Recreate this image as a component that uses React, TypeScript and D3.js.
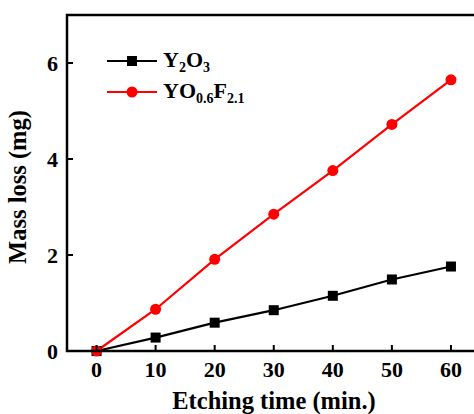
import React from "react";
import * as d3 from "d3";

const times = [0, 10, 20, 30, 40, 50, 60];
const y2o3 = [0, 0.28, 0.59, 0.85, 1.15, 1.49, 1.76];
const yof = [0, 0.87, 1.91, 2.85, 3.76, 4.72, 5.65];
const xTicks = [0, 10, 20, 30, 40, 50, 60];
const yTicks = [0, 2, 4, 6];

const W = 474;
const H = 414;
const FONT = "'Liberation Serif', 'Times New Roman', serif";

export default function App() {
  const x = d3.scaleLinear().domain([-5, 65]).range([67, 480.5]);
  const y = d3.scaleLinear().domain([0, 7]).range([351, 15]);
  const line = d3
    .line<number>()
    .x((_, i) => x(times[i]))
    .y((d) => y(d));

  return (
    <svg
      width={W}
      height={H}
      style={{ position: "absolute", left: 0, top: 0, background: "#fff" }}
      fontFamily={FONT}
      fontWeight="bold"
    >
      {/* data lines */}
      <path d={line(y2o3) || ""} fill="none" stroke="#000" strokeWidth={2.2} />
      <path d={line(yof) || ""} fill="none" stroke="#ff0000" strokeWidth={2.2} />
      {y2o3.map((v, i) => (
        <rect key={"s" + i} x={x(times[i]) - 5} y={y(v) - 5} width={10} height={10} fill="#000" />
      ))}
      {yof.map((v, i) => (
        <circle key={"c" + i} cx={x(times[i])} cy={y(v)} r={5.5} fill="#ff0000" />
      ))}

      {/* frame */}
      <rect
        x={x.range()[0]}
        y={y.range()[1]}
        width={x.range()[1] - x.range()[0]}
        height={y.range()[0] - y.range()[1]}
        fill="none"
        stroke="#000"
        strokeWidth={2.5}
      />

      {/* x ticks */}
      {xTicks.map((t) => (
        <g key={"xt" + t}>
          <line x1={x(t)} x2={x(t)} y1={y(0)} y2={y(0) - 6} stroke="#000" strokeWidth={2} />
          <text x={x(t)} y={377} fontSize={22} textAnchor="middle">
            {t}
          </text>
        </g>
      ))}
      {/* y ticks */}
      {yTicks.map((t) => (
        <g key={"yt" + t}>
          <line x1={x(-5)} x2={x(-5) + 6} y1={y(t)} y2={y(t)} stroke="#000" strokeWidth={2} />
          <text x={58} y={y(t) + 7.5} fontSize={22} textAnchor="end">
            {t}
          </text>
        </g>
      ))}

      {/* axis titles */}
      <text x={274} y={409} fontSize={24.5} textAnchor="middle">
        Etching time (min.)
      </text>
      <text
        transform={`translate(26, 187) rotate(-90)`}
        fontSize={24.5}
        textAnchor="middle"
      >
        Mass loss (mg)
      </text>

      {/* legend */}
      <line x1={107} x2={157} y1={61} y2={61} stroke="#000" strokeWidth={2.2} />
      <rect x={127} y={56} width={10} height={10} fill="#000" />
      <text x={163} y={67} fontSize={22}>
        Y<tspan fontSize={14} dy={5}>2</tspan>
        <tspan dy={-5}>O</tspan>
        <tspan fontSize={14} dy={5}>3</tspan>
      </text>
      <line x1={107} x2={157} y1={92} y2={92} stroke="#ff0000" strokeWidth={2.2} />
      <circle cx={132} cy={92} r={5.5} fill="#ff0000" />
      <text x={163} y={98} fontSize={22}>
        YO<tspan fontSize={14} dy={5}>0.6</tspan>
        <tspan dy={-5}>F</tspan>
        <tspan fontSize={14} dy={5}>2.1</tspan>
      </text>
    </svg>
  );
}
